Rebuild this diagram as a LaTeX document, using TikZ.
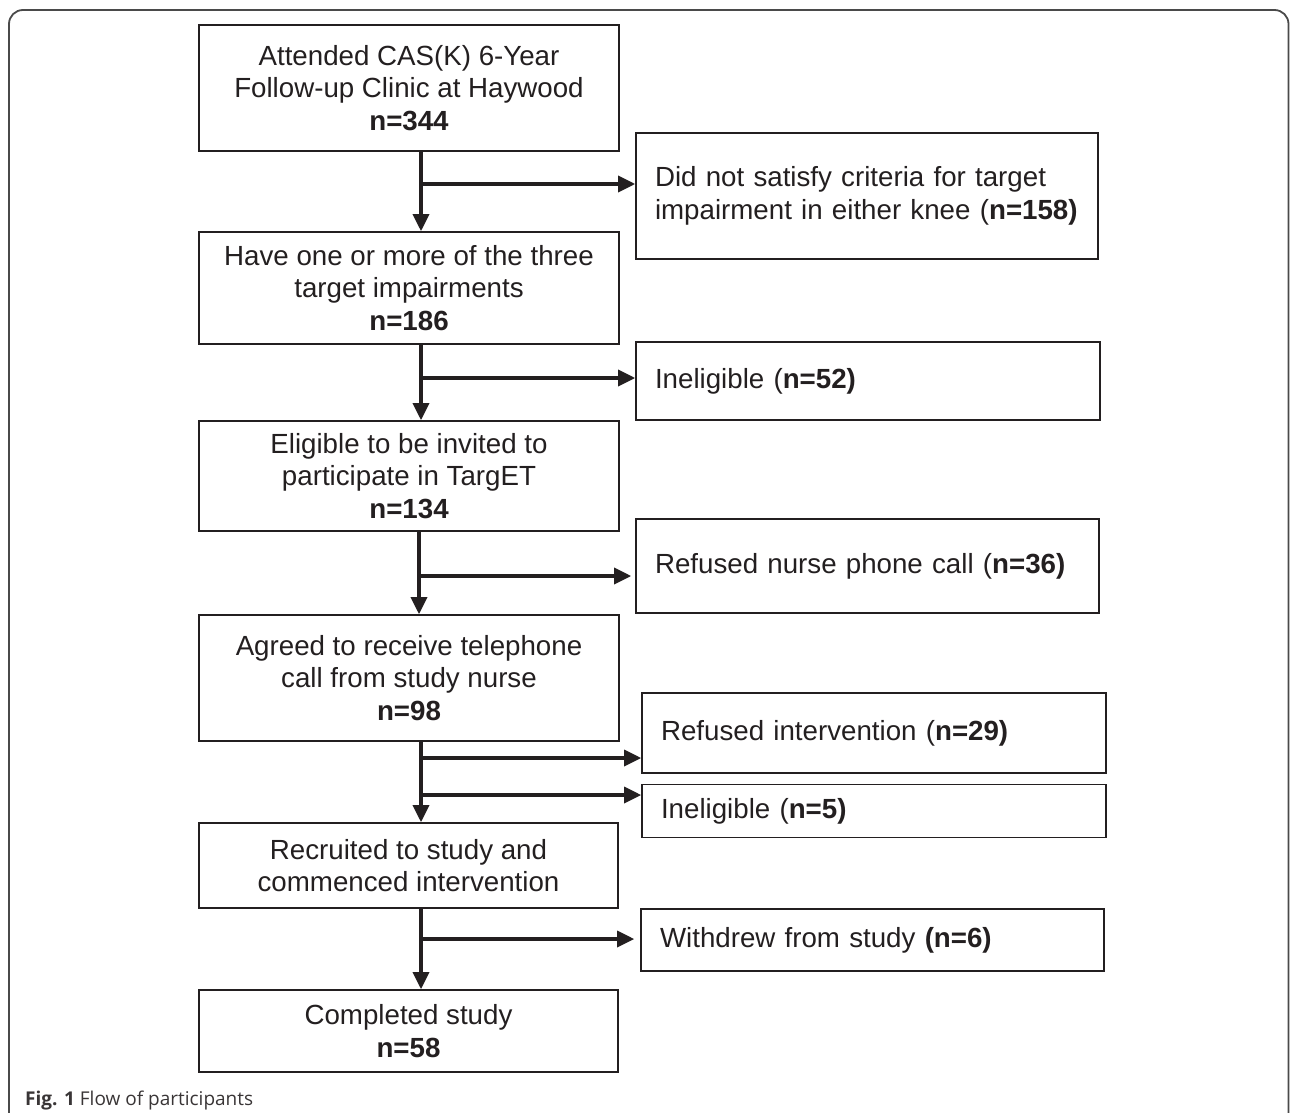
\documentclass[tikz,border=0pt]{standalone}
\usepackage{fontspec}
\setmainfont{Liberation Sans}
\newfontfamily\capfont{Open Sans}
\usetikzlibrary{arrows.meta}
\definecolor{ink}{HTML}{231F20}
\definecolor{framecol}{HTML}{4A4A4A}
\begin{document}
\begin{tikzpicture}[x=1pt,y=-1pt,
  every node/.style={font=\fontsize{27.7}{32.5}\selectfont, text=ink},
  mainbox/.style={draw=ink, line width=1.6pt, minimum width=420pt, align=center, inner sep=0pt},
  sidebox/.style={draw=ink, line width=1.6pt, align=left, inner xsep=19pt, inner ysep=0pt},
  arr/.style={draw=ink, line width=3.4pt, -{Triangle[length=17pt 0 0,width=16pt 0 0]}}
]
\useasboundingbox (0,0) rectangle (1290,1113);
% outer frame
\draw[framecol, line width=1.8pt, rounded corners=14pt] (9,1140) -- (9,10) -- (1288.5,10) -- (1288.5,1140);

% main column
\node[mainbox, minimum height=126pt] (m1) at (409,88) {Attended CAS(K) 6-Year\\Follow-up Clinic at Haywood\\\textbf{n=344}};
\node[mainbox, minimum height=112pt] (m2) at (409,288) {Have one or more of the three\\target impairments\\\textbf{n=186}};
\node[mainbox, minimum height=110pt] (m3) at (409,476) {Eligible to be invited to\\participate in TargET\\\textbf{n=134}};
\node[mainbox, minimum height=126pt] (m4) at (409,678) {Agreed to receive telephone\\call from study nurse\\\textbf{n=98}};
\node[mainbox, minimum height=85pt, minimum width=419pt] (m5) at (408.5,865.5) {Recruited to study and\\commenced intervention};
\node[mainbox, minimum height=82pt, minimum width=419pt] (m6) at (408.5,1031) {Completed study\\\textbf{n=58}};

% side column
\node[sidebox, minimum height=126pt, text width=424pt] (s1) at (867,196) {Did not satisfy criteria for target\\impairment in either knee (\textbf{n=158)}};
\node[sidebox, minimum height=78pt, text width=426pt] (s2) at (868,381) {Ineligible (\textbf{n=52)}};
\node[sidebox, minimum height=94pt, text width=425pt] (s3) at (867.5,566) {Refused nurse phone call (\textbf{n=36)}};
\node[sidebox, minimum height=80pt, text width=426pt] (s4) at (874,733) {Refused intervention (\textbf{n=29)}};
\node[sidebox, minimum height=53pt, text width=426pt] (s5) at (874,811) {Ineligible (\textbf{n=5)}};
\node[sidebox, minimum height=62pt, text width=425pt] (s6) at (872.5,940) {Withdrew from study \textbf{(n=6)}};

% junction coordinates
\coordinate (j1) at (421,184);
\coordinate (j2) at (421,378);
\coordinate (j3) at (419,576);
\coordinate (j4a) at (421,758);
\coordinate (j4b) at (421,795);
\coordinate (j5) at (421,939);

% vertical arrows
\draw[arr] (m1.south -| j1) -- (m2.north -| j1);
\draw[arr] (m2.south -| j2) -- (m3.north -| j2);
\draw[arr] (m3.south -| j3) -- (m4.north -| j3);
\draw[arr] (m4.south -| j4a) -- (m5.north -| j4a);
\draw[arr] (m5.south -| j5) -- (m6.north -| j5);

% horizontal arrows
\draw[arr] (j1) -- (j1 -| s1.west);
\draw[arr] (j2) -- (j2 -| s2.west);
\draw[arr, shorten >=4pt] (j3) -- (j3 -| s3.west);
\draw[arr] (j4a) -- (j4a -| s4.west);
\draw[arr] (j4b) -- (j4b -| s5.west);
\draw[arr, shorten >=6pt] (j5) -- (j5 -| s6.west);

% caption
\node[anchor=base west, inner sep=0pt, font=\capfont\fontsize{19}{23}\selectfont, text=ink!90] (cap) at (25,1105) {\textbf{Fig. 1} Flow of participants};
\end{tikzpicture}
\end{document}
